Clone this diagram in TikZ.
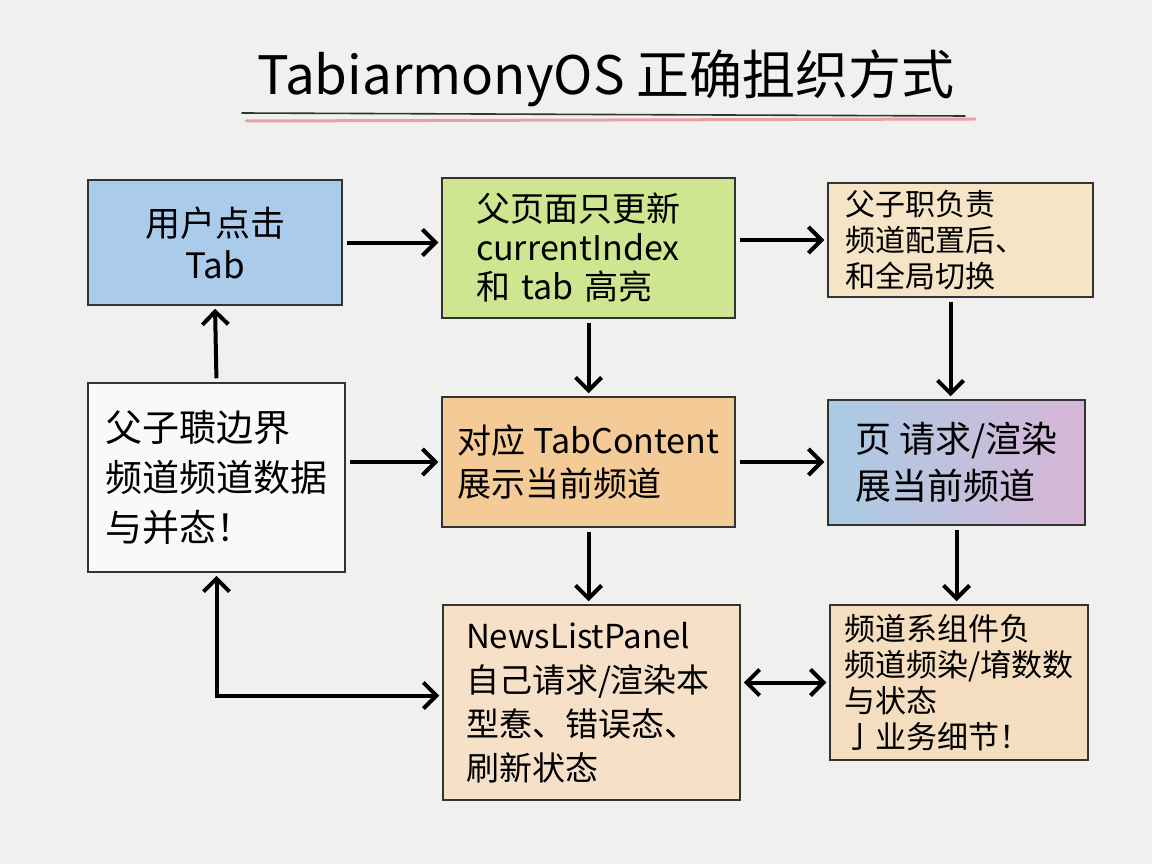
\documentclass[tikz,border=0pt]{standalone}
\usepackage{fontspec}
\setmainfont{Noto Sans CJK SC}
\usetikzlibrary{arrows.meta}
\definecolor{bgc}{HTML}{F0F0EE}
\definecolor{blueF}{HTML}{AACBEA}
\definecolor{greenF}{HTML}{CFE690}
\definecolor{peachF}{HTML}{F6E4C6}
\definecolor{orangeF}{HTML}{F4CA96}
\definecolor{fblue}{HTML}{A9CBE4}
\definecolor{fpink}{HTML}{D8B6D6}
\definecolor{gF}{HTML}{F7E0C8}
\definecolor{hF}{HTML}{F5DDBF}
\definecolor{edge}{HTML}{333333}
\definecolor{pinkline}{HTML}{E8A0A8}
\tikzset{
  box/.style={draw=edge, line width=1.5pt, align=left, inner sep=0pt},
  tipA/.tip={Straight Barb[length=13pt,width=26pt,line width=4pt]},
  arr/.style={line width=4pt, -tipA, shorten >=3pt, shorten <=4pt},
  darr/.style={line width=4pt, tipA-tipA, shorten >=3pt, shorten <=3pt},
}
\newcommand{\fs}[2]{\fontsize{#1}{#2}\selectfont}
\begin{document}
\begin{tikzpicture}[x=1pt,y=-1pt]
\useasboundingbox (0,0) rectangle (1152,864);
\fill[bgc] (0,0) rectangle (1152,864);

% title
\node[font=\fs{53}{58}] (title) at (606,78) {TabiarmonyOS 正确抯织方式};
\draw[edge, line width=1.6pt, line cap=round] (242,113) -- (965,116);
\draw[pinkline, line width=3pt, line cap=round] (246,121) -- (975,119);

% boxes
\node[box, fill=blueF, minimum width=254, minimum height=125, align=center, font=\fs{35}{42}] (a) at (215,242.5) {用户点击\\Tab};
\node[box, fill=greenF, minimum width=293, minimum height=140, text width=225, inner xsep=34, font=\fs{34}{39}] (b) at (588.5,248) {父页面只更新\\currentIndex\\和 tab 高亮};
\node[box, fill=peachF, minimum width=265, minimum height=114, text width=231, inner xsep=17, font=\fs{30}{36}] (c) at (960.5,240) {父子职负责\\频道配置后、\\和全局切换};
\node[box, fill=white!60!bgc, minimum width=253, minimum height=189, text width=223, inner xsep=17, font=\fs{37}{50}] (d) at (216.5,477.5) {父子聩边界\\频道频道数据\\与并态！};
\node[box, fill=orangeF, minimum width=293, minimum height=130, font=\fs{34}{43}] (e) at (588.5,462) {对应 TabContent\\展示当前频道};
\node[box, left color=fblue, right color=fpink, minimum width=257, minimum height=125, font=\fs{36}{47}] (f) at (956.5,462.5) {页 请求/渲染\\展当前频道};
\node[box, fill=gF, minimum width=297, minimum height=195, text width=251, inner xsep=23, font=\fs{33}{44}] (g) at (591.5,702.5) {NewsListPanel\\自己请求/渲染本\\型惷、错误态、\\刷新状态};
\node[box, fill=hF, minimum width=258, minimum height=155, font=\fs{31}{36}] (h) at (959,682.5) {频道系组件负\\频道频染/堉数数\\与状态\\亅业务细节！};

% connectors
\draw[arr] (a.east) -- (a.east -| b.west);
\draw[arr] (c.west -| b.east) -- (c.west);
\draw[arr] (b.south) -- (e.north);
\draw[arr] ([xshift=-10pt]c.south) -- ([xshift=-10pt]c.south |- f.north);
\draw[arr] (d.north) -- (a.south);
\draw[arr] (d.east |- e.west) -- (e.west);
\draw[arr] (e.east) -- (e.east -| f.west);
\draw[arr] (e.south) -- (e.south |- g.north);
\draw[arr] (f.south) -- (f.south |- h.north);
\draw[darr] (h.west -| g.east) -- (h.west);
\draw[darr] (d.south) |- ([yshift=7pt]g.west);
\end{tikzpicture}
\end{document}
